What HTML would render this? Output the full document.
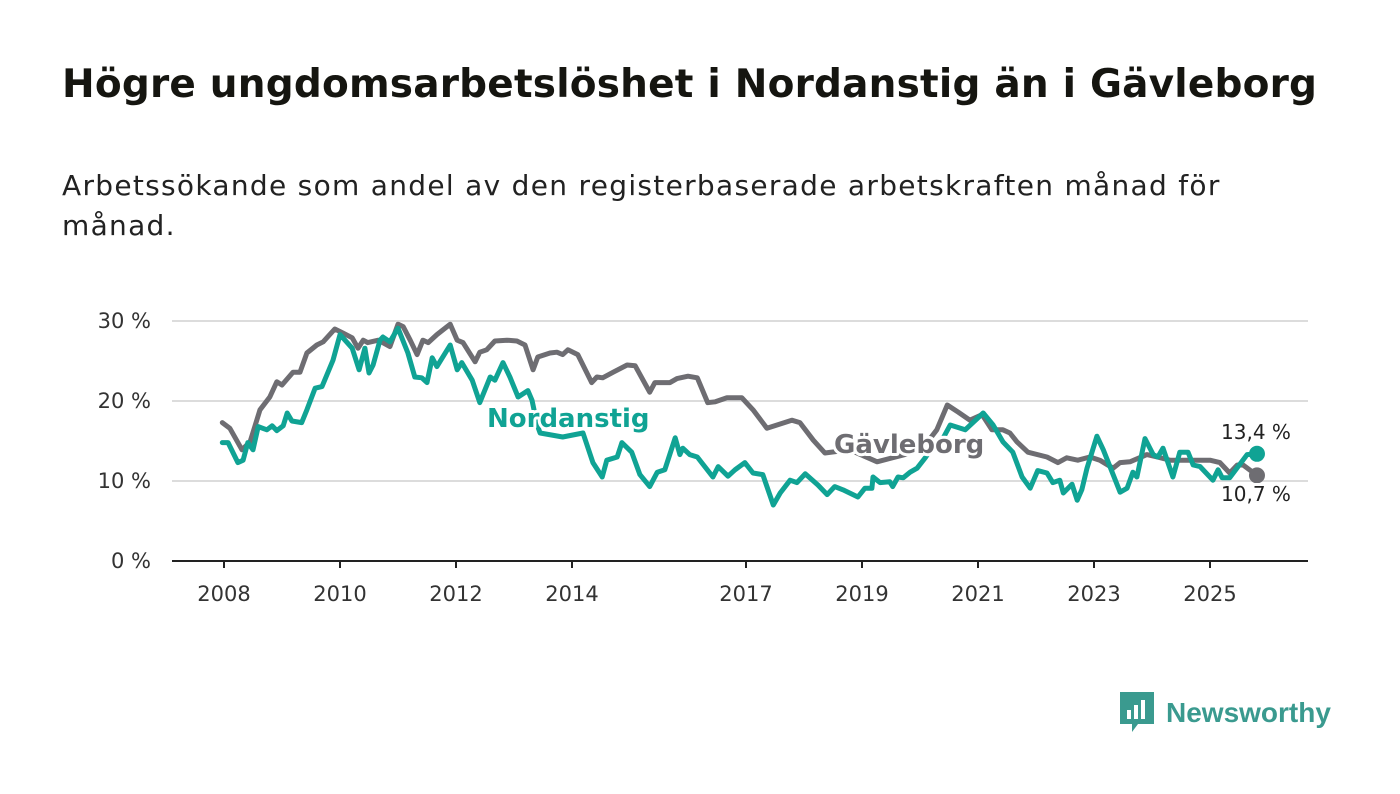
<!DOCTYPE html>
<html><head><meta charset="utf-8">
<style>
html,body{margin:0;padding:0;background:#fff;}
body{width:1400px;height:794px;position:relative;overflow:hidden;font-family:"Liberation Sans","DejaVu Sans",sans-serif;}
#title{position:absolute;left:62px;top:62px;font-size:39px;font-weight:bold;color:#151510;margin:0;letter-spacing:0.2px;font-family:"DejaVu Sans","Liberation Sans",sans-serif;}
#subtitle{position:absolute;left:62px;top:166px;width:1220px;font-size:28px;letter-spacing:1.3px;line-height:40px;color:#222;margin:0;font-family:"DejaVu Sans","Liberation Sans",sans-serif;}
svg text{font-family:"DejaVu Sans","Liberation Sans",sans-serif;}
</style></head><body>
<h1 id="title">Högre ungdomsarbetslöshet i Nordanstig än i Gävleborg</h1>
<p id="subtitle">Arbetssökande som andel av den registerbaserade arbetskraften månad för månad.</p>
<svg id="chart" width="1400" height="794" style="position:absolute;left:0;top:0" xmlns="http://www.w3.org/2000/svg"></svg>
<div style="position:absolute;left:1118px;top:690px;height:46px;display:flex;align-items:center;">
<svg width="38" height="46"><path d="M2 2h34v32H20l-6 8v-8H2z" fill="#3a9a8f"/><rect x="9" y="20" width="4" height="9" fill="#fff"/><rect x="16" y="15" width="4" height="14" fill="#fff"/><rect x="23" y="10" width="4" height="19" fill="#fff"/></svg>
<span style="font-family:'Liberation Sans',sans-serif;font-size:28px;color:#3a9a8f;margin-left:10px;font-weight:bold;">Newsworthy</span>
</div>
<script>
const yTicks=[0,10,20,30];
const xTickYears=[2008,2010,2012,2014,2017,2019,2021,2023,2025];
const gavDates=[2007.97,2008.10,2008.31,2008.45,2008.62,2008.79,2008.91,2009.00,2009.19,2009.31,2009.43,2009.60,2009.71,2009.91,2010.05,2010.21,2010.31,2010.40,2010.48,2010.66,2010.86,2011.00,2011.09,2011.21,2011.33,2011.43,2011.52,2011.67,2011.90,2012.02,2012.12,2012.33,2012.41,2012.53,2012.67,2012.88,2013.05,2013.19,2013.33,2013.41,2013.62,2013.74,2013.84,2013.93,2014.10,2014.34,2014.43,2014.53,2014.71,2014.95,2015.09,2015.34,2015.43,2015.69,2015.81,2016.00,2016.16,2016.34,2016.47,2016.67,2016.93,2017.12,2017.36,2017.79,2017.93,2018.16,2018.36,2018.79,2019.26,2019.74,2020.09,2020.29,2020.47,2020.66,2020.86,2021.07,2021.24,2021.43,2021.55,2021.67,2021.86,2022.19,2022.38,2022.53,2022.72,2022.93,2023.10,2023.33,2023.45,2023.62,2023.91,2024.09,2024.31,2024.60,2024.83,2025.00,2025.17,2025.34,2025.47,2025.57,2025.81];
const gavValues=[17.3,16.6,13.9,14.9,18.9,20.5,22.4,22.0,23.6,23.6,26.0,27.0,27.4,29.0,28.5,27.9,26.6,27.6,27.3,27.6,26.8,29.6,29.3,27.6,25.8,27.6,27.3,28.3,29.6,27.6,27.3,24.9,26.1,26.4,27.5,27.6,27.5,27.0,23.9,25.5,26.0,26.1,25.8,26.4,25.8,22.3,23.0,22.9,23.6,24.5,24.4,21.1,22.3,22.3,22.8,23.1,22.9,19.8,19.9,20.4,20.4,18.9,16.6,17.6,17.3,15.1,13.5,13.9,12.4,13.3,14.5,16.4,19.5,18.6,17.6,18.3,16.4,16.4,16.0,14.9,13.6,13.0,12.3,12.9,12.6,13.0,12.6,11.6,12.3,12.4,13.3,13.0,12.6,12.6,12.6,12.6,12.3,11.0,12.0,12.0,10.7];
const norDates=[2007.97,2008.07,2008.24,2008.33,2008.41,2008.50,2008.59,2008.74,2008.83,2008.91,2009.02,2009.09,2009.17,2009.34,2009.43,2009.57,2009.69,2009.88,2010.00,2010.21,2010.33,2010.43,2010.50,2010.57,2010.69,2010.74,2010.86,2011.00,2011.17,2011.29,2011.41,2011.50,2011.59,2011.67,2011.90,2012.02,2012.10,2012.28,2012.41,2012.59,2012.67,2012.81,2012.93,2013.07,2013.24,2013.31,2013.40,2013.45,2013.84,2014.19,2014.36,2014.52,2014.60,2014.78,2014.86,2015.03,2015.17,2015.34,2015.47,2015.60,2015.78,2015.86,2015.91,2016.03,2016.16,2016.43,2016.52,2016.69,2016.81,2016.98,2017.12,2017.29,2017.47,2017.59,2017.76,2017.88,2018.02,2018.24,2018.40,2018.53,2018.67,2018.93,2019.05,2019.17,2019.19,2019.31,2019.48,2019.53,2019.62,2019.71,2019.83,2019.95,2020.09,2020.22,2020.38,2020.52,2020.78,2021.09,2021.26,2021.43,2021.60,2021.76,2021.90,2022.03,2022.19,2022.29,2022.41,2022.47,2022.62,2022.71,2022.79,2022.88,2023.05,2023.16,2023.45,2023.57,2023.67,2023.74,2023.88,2024.02,2024.10,2024.19,2024.36,2024.48,2024.62,2024.71,2024.83,2025.05,2025.14,2025.21,2025.34,2025.64,2025.81];
const norValues=[14.8,14.8,12.3,12.6,14.8,13.9,16.8,16.4,16.9,16.3,16.9,18.5,17.5,17.3,18.9,21.6,21.8,25.1,28.3,26.6,23.9,26.6,23.5,24.5,27.6,28.0,27.4,29.1,26.0,23.0,22.9,22.3,25.4,24.3,27.0,23.9,24.8,22.6,19.8,23.0,22.6,24.8,23.0,20.5,21.3,20.1,17.0,16.0,15.5,16.0,12.3,10.5,12.6,13.0,14.8,13.6,10.8,9.3,11.1,11.4,15.4,13.3,14.1,13.3,13.0,10.5,11.8,10.6,11.4,12.3,11.0,10.8,7.0,8.5,10.1,9.8,10.9,9.5,8.3,9.3,8.9,8.0,9.1,9.1,10.5,9.8,9.9,9.3,10.5,10.4,11.1,11.6,12.9,14.3,15.1,17.0,16.4,18.5,17.0,14.9,13.6,10.5,9.1,11.3,11.0,9.8,10.1,8.5,9.6,7.6,8.9,11.6,15.6,13.9,8.6,9.1,11.1,10.5,15.3,13.3,13.0,14.1,10.5,13.6,13.6,12.0,11.8,10.1,11.4,10.4,10.4,13.3,13.4];
const endLabels=["13,4 %","10,7 %"];

const NS="http://www.w3.org/2000/svg";
const svg=document.getElementById('chart');
const X0=172,X1=1308;
const xS=t=>224+(t-2008)*58;
const yS=v=>561-v*8;
function mk(tag,attrs,parent){const e=document.createElementNS(NS,tag);for(const k in attrs)e.setAttribute(k,attrs[k]);(parent||svg).appendChild(e);return e;}

yTicks.forEach(v=>{
  if(v>0){const g=mk('line',{x1:X0,x2:X1,y1:yS(v),y2:yS(v),stroke:'#dcdcdc','stroke-width':2});
  
  }
  const t=mk('text',{x:151,y:yS(v)+7,'text-anchor':'end','font-size':21,fill:'#333'});
  t.textContent=v+' %';
  
  
});
const ax=mk('line',{x1:X0,x2:X1,y1:561,y2:561,stroke:'#222','stroke-width':2});


xTickYears.forEach(yr=>{
  const tk=mk('line',{x1:xS(yr),x2:xS(yr),y1:561,y2:568,stroke:'#222','stroke-width':2});
  
  
  const t=mk('text',{x:xS(yr),y:601,'text-anchor':'middle','font-size':21,fill:'#333'});
  t.textContent=yr;
  
  
});
function line(d,v,color,name){
  const pts=d.map((t,i)=>xS(t).toFixed(1)+','+yS(v[i]).toFixed(1)).join(' ');
  const p=mk('polyline',{points:pts,fill:'none',stroke:color,'stroke-width':5,'stroke-linejoin':'round','stroke-linecap':'round'});
  
  
}
line(gavDates,gavValues,'#6e6d72','gavleborg-line');
line(norDates,norValues,'#10a394','nordanstig-line');
const gl=gavDates.length-1,nl=norDates.length-1;
const d1=mk('circle',{cx:xS(gavDates[gl]),cy:yS(gavValues[gl]),r:8,fill:'#6e6d72'});


const d2=mk('circle',{cx:xS(norDates[nl]),cy:yS(norValues[nl]),r:8,fill:'#10a394'});


function lbl(txt,x,y,size,color,weight,name,anchor){
  const t=mk('text',{x:x,y:y,'font-size':size,fill:color,'font-weight':weight,'text-anchor':anchor||'start',stroke:'#fff','stroke-width':6,'paint-order':'stroke','stroke-linejoin':'round'});
  t.textContent=txt;
  
  
}
lbl('Nordanstig',487,427,26,'#10a394','bold','nordanstig-label');
lbl('Gävleborg',834,453,26,'#6e6d72','bold','gavleborg-label');
lbl(endLabels[0],1256,439,20,'#222','normal','nordanstig-end-value','middle');
lbl(endLabels[1],1256,501,20,'#222','normal','gavleborg-end-value','middle');
</script>
</body></html>
